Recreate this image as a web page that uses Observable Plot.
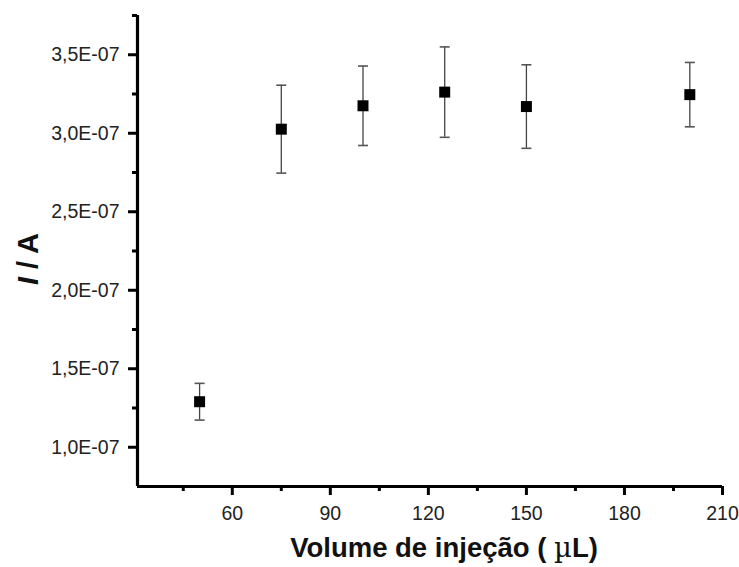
<!DOCTYPE html>
<html><head><meta charset="utf-8">
<script src="https://cdn.jsdelivr.net/npm/d3@7"></script>
<script src="https://cdn.jsdelivr.net/npm/@observablehq/plot@0.6"></script>
<style>body{margin:0;background:#fff;}</style>
</head><body><div id="chart"></div>
<script>
const volumes = [50, 75, 100, 125, 150, 200];
const currents = [1.29e-7, 3.026e-7, 3.175e-7, 3.262e-7, 3.17e-7, 3.246e-7];
const errors = [0.117e-7, 0.28e-7, 0.253e-7, 0.288e-7, 0.266e-7, 0.205e-7];
const xMajorTicks = [60, 90, 120, 150, 180, 210];
const xMinorTicks = [45, 75, 105, 135, 165, 195];
const yMajorTicks = [1.0e-7, 1.5e-7, 2.0e-7, 2.5e-7, 3.0e-7, 3.5e-7];
const yMinorTicks = [1.25e-7, 1.75e-7, 2.25e-7, 2.75e-7, 3.25e-7, 3.75e-7];
const xDomain = [31, 210];
const yDomain = [0.75e-7, 3.75e-7];
const xLabelParts = ["Volume de injeção ( ", "µ", "L)"];
const yLabelItalic = "I";
const yLabelRest = " / A";

const data = volumes.map((v, i) => ({volume: v, current: currents[i], lo: currents[i] - errors[i], hi: currents[i] + errors[i]}));
const fmt = d => (d * 1e7).toFixed(1).replace(".", ",") + "E-07";
const capSymbol = {draw(ctx) { ctx.moveTo(-5, 0); ctx.lineTo(5, 0); }};
const FONT = "'Liberation Sans', Arial, sans-serif";

const plot = Plot.plot({
  width: 739, height: 567,
  marginLeft: 137, marginRight: 17, marginTop: 15, marginBottom: 81,
  style: {fontFamily: FONT, fontSize: "19px", color: "#000", background: "#fff"},
  x: {domain: xDomain},
  y: {domain: yDomain},
  marks: [
    Plot.ruleX(data, {x: "volume", y1: "lo", y2: "hi", stroke: "#444", strokeWidth: 1.3}),
    Plot.dot(data, {x: "volume", y: "lo", symbol: capSymbol, fill: "none", stroke: "#555", strokeWidth: 1.6, r: 5}),
    Plot.dot(data, {x: "volume", y: "hi", symbol: capSymbol, fill: "none", stroke: "#555", strokeWidth: 1.6, r: 5}),
    Plot.dot(data, {x: "volume", y: "current", symbol: "square", fill: "#000", stroke: "none", r: 6.2}),
    Plot.axisX(xMajorTicks, {tickSize: 9, tickPadding: 11, stroke: "#000", strokeWidth: 3, strokeOpacity: 1, fill: "#222", fontSize: 19.5, label: null, tickFormat: d => String(d)}),
    Plot.axisX(xMinorTicks, {tickSize: 5, stroke: "#000", strokeWidth: 3, strokeOpacity: 1, text: null, label: null}),
    Plot.axisY(yMajorTicks, {tickSize: 9, tickPadding: 9, stroke: "#000", strokeWidth: 3, strokeOpacity: 1, fill: "#222", fontSize: 19.5, label: null, tickFormat: fmt}),
    Plot.axisY(yMinorTicks, {tickSize: 5, stroke: "#000", strokeWidth: 3, strokeOpacity: 1, text: null, label: null}),
    Plot.ruleX([xDomain[0]], {stroke: "#000", strokeWidth: 3.2}),
    Plot.ruleY([yDomain[0]], {stroke: "#000", strokeWidth: 3.2})
  ]
});

const svg = d3.select(plot);
const xl = svg.append("text")
  .attr("x", 444).attr("y", 557)
  .attr("text-anchor", "middle")
  .attr("font-family", FONT)
  .attr("font-weight", "bold").attr("font-size", 27.5).attr("fill", "#111");
xl.append("tspan").text(xLabelParts[0]);
xl.append("tspan").attr("font-family", "'DejaVu Serif', 'Liberation Serif', serif").attr("font-weight", "normal").text(xLabelParts[1]);
xl.append("tspan").text(xLabelParts[2]);
const yl = svg.append("text")
  .attr("transform", "translate(38,259) rotate(-90)")
  .attr("text-anchor", "middle")
  .attr("font-family", FONT)
  .attr("font-weight", "bold").attr("font-size", 29).attr("fill", "#111");
yl.append("tspan").attr("font-style", "italic").text(yLabelItalic);
yl.append("tspan").text(yLabelRest);

document.getElementById("chart").appendChild(plot);
</script>
</body></html>
